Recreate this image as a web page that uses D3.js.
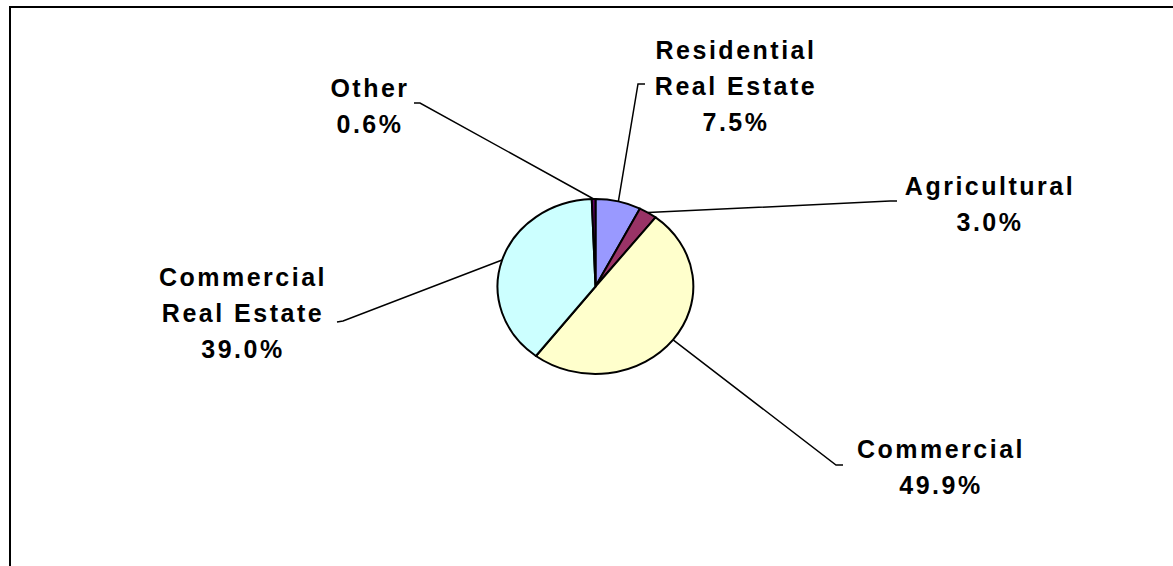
<!DOCTYPE html>
<html>
<head>
<meta charset="utf-8">
<script src="https://cdn.jsdelivr.net/npm/d3@7"></script>
<style>
  html, body { margin: 0; padding: 0; background: #fff; }
  svg { display: block; }
  .lbl { font-family: "Liberation Sans", Arial, sans-serif; font-weight: bold; font-size: 25px; letter-spacing: 2.5px; fill: #000; }
</style>
</head>
<body>
<script>
// ---- data ----
const categories = ["Residential Real Estate", "Agricultural", "Commercial", "Commercial Real Estate", "Other"];
const labelLines = [["Residential", "Real Estate"], ["Agricultural"], ["Commercial"], ["Commercial", "Real Estate"], ["Other"]];
const values = [7.5, 3.0, 49.9, 39.0, 0.6];
const colors = ["#9999FF", "#993366", "#FFFFCC", "#CCFFFF", "#660066"];

// ---- layout (not data) ----
const W = 1173, H = 566;
const cx = 595.5, cy = 286.5, rx = 98, ry = 87.5;
const lineGap = 36;
// label block: center x, first baseline y, and leader line elbow points
const labelLayout = [
  { x: 736, y: 59,  elbow: [[645, 84], [638, 84]] },
  { x: 990, y: 195, elbow: [[897, 201], [890, 201]] },
  { x: 941, y: 458, elbow: [[843, 465], [836, 465]] },
  { x: 243, y: 286, elbow: [[337, 322], [343, 321]] },
  { x: 370, y: 97,  elbow: [[414, 103], [420, 103]] }
];

const svg = d3.select("body").append("svg").attr("width", W).attr("height", H);

// frame (top and left visible)
svg.append("rect").attr("x", 10).attr("y", 7).attr("width", W + 20).attr("height", H + 20)
  .attr("fill", "none").attr("stroke", "#000").attr("stroke-width", 2);

const pie = d3.pie().sort(null).value(d => d)(values);
const arc = d3.arc().innerRadius(0).outerRadius(1);

const g = svg.append("g").attr("transform", `translate(${cx},${cy}) scale(${rx},${ry})`);
g.selectAll("path").data(pie).join("path")
  .attr("d", arc)
  .attr("fill", (d, i) => colors[i])
  .attr("stroke", "#000")
  .attr("stroke-width", 2)
  .attr("vector-effect", "non-scaling-stroke")
  .attr("stroke-linejoin", "round");

// leader lines
pie.forEach((d, i) => {
  const a = (d.startAngle + d.endAngle) / 2;
  const px = cx + rx * Math.sin(a), py = cy - ry * Math.cos(a);
  const L = labelLayout[i];
  const pts = [L.elbow[0], L.elbow[1], [px, py]];
  svg.append("path").attr("d", d3.line()(pts))
    .attr("fill", "none").attr("stroke", "#000").attr("stroke-width", 1.5);
});

// labels
pie.forEach((d, i) => {
  const L = labelLayout[i];
  const lines = labelLines[i].concat([values[i].toFixed(1) + "%"]);
  const t = svg.append("text").attr("class", "lbl").attr("text-anchor", "middle");
  lines.forEach((s, k) => {
    t.append("tspan").attr("x", L.x).attr("y", L.y + k * lineGap).text(s);
  });
});
</script>
</body>
</html>
